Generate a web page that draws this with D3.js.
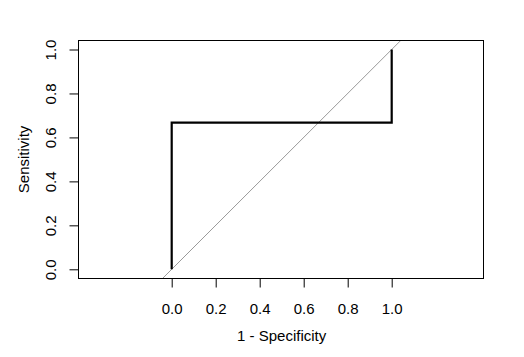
<!DOCTYPE html>
<html lang="en">
<head>
    <meta charset="UTF-8">
    <title>ROC</title>
    <script src="https://cdnjs.cloudflare.com/ajax/libs/d3/7.8.5/d3.min.js"></script>
    <style>
        body { margin: 0; background: #fff; }
        svg text { font-family: "Liberation Sans", Arial, sans-serif; font-size: 15px; fill: #000; }
    </style>
</head>
<body>
<svg width="524" height="357"></svg>
<script>
    // ROC curve points (1 - specificity, sensitivity)
    const fpr = [0, 0, 1, 1];
    const tpr = [0, 0.667, 0.667, 1];
    const xTicks = [0, 0.2, 0.4, 0.6, 0.8, 1.0];
    const yTicks = [0, 0.2, 0.4, 0.6, 0.8, 1.0];

    const svg = d3.select("svg");

    // plot box in pixels
    const box = {left: 78.5, right: 483.5, top: 40.5, bottom: 278.5};

    const x = d3.scaleLinear().domain([0, 1]).range([171.7, 391.7]);
    const y = d3.scaleLinear().domain([0, 1]).range([269.3, 49.5]);

    svg.append("clipPath").attr("id", "clip")
        .append("rect")
        .attr("x", box.left).attr("y", box.top)
        .attr("width", box.right - box.left).attr("height", box.bottom - box.top);

    // diagonal reference line, clipped to the box
    svg.append("line")
        .attr("clip-path", "url(#clip)")
        .attr("x1", x(-0.5)).attr("y1", y(-0.5))
        .attr("x2", x(1.5)).attr("y2", y(1.5))
        .attr("stroke", "#9a9a9a")
        .attr("stroke-width", 1);

    // ROC curve
    const line = d3.line().x(d => x(d[0])).y(d => y(d[1]));
    svg.append("path")
        .datum(d3.zip(fpr, tpr))
        .attr("d", line)
        .attr("fill", "none")
        .attr("stroke", "#000")
        .attr("stroke-width", 2.2);

    // box
    svg.append("rect")
        .attr("x", box.left).attr("y", box.top)
        .attr("width", box.right - box.left).attr("height", box.bottom - box.top)
        .attr("fill", "none")
        .attr("stroke", "#000")
        .attr("stroke-width", 1);

    // x axis
    const xAxis = d3.axisBottom(x).tickValues(xTicks).tickFormat(d3.format(".1f")).tickSize(9);
    const gx = svg.append("g").attr("transform", `translate(0,${box.bottom})`).call(xAxis);
    gx.attr("font-size", null).attr("font-family", null);
    gx.select(".domain").remove();
    gx.selectAll("text").attr("y", 35).attr("dy", 0);

    // y axis
    const yAxis = d3.axisLeft(y).tickValues(yTicks).tickFormat(d3.format(".1f")).tickSize(9);
    const gy = svg.append("g").attr("transform", `translate(${box.left},0)`).call(yAxis);
    gy.attr("font-size", null).attr("font-family", null);
    gy.select(".domain").remove();
    gy.selectAll("text")
        .attr("transform", "translate(-23,0) rotate(-90)")
        .attr("x", 0)
        .attr("dy", 0)
        .attr("text-anchor", "middle");

    // axis titles
    svg.append("text")
        .attr("x", x(0.5)).attr("y", 341)
        .attr("text-anchor", "middle")
        .text("1 - Specificity");

    svg.append("text")
        .attr("transform", `translate(29,${y(0.5)}) rotate(-90)`)
        .attr("text-anchor", "middle")
        .text("Sensitivity");
</script>
</body>
</html>
